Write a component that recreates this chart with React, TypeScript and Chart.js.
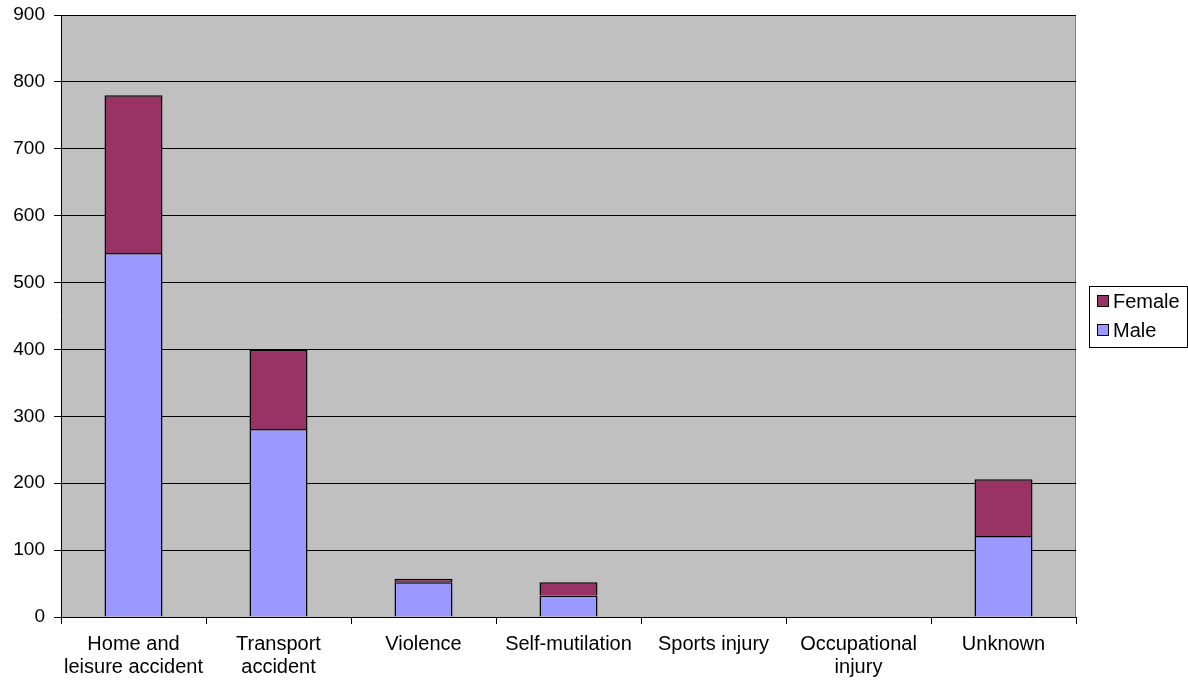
import React, { useEffect, useRef } from "react";
import { Chart, registerables } from "chart.js";

Chart.register(...registerables);

const categories: (string | string[])[] = [
  ["Home and", "leisure accident"],
  ["Transport", "accident"],
  "Violence",
  "Self-mutilation",
  "Sports injury",
  ["Occupational", "injury"],
  "Unknown",
];
const seriesNames = ["Male", "Female"];
const maleValues = [544, 281, 52, 32, 0, 0, 121];
const femaleValues = [236, 118, 5, 20, 0, 0, 85];
const seriesColors = ["#9999FF", "#993366"];
const yTicks = { min: 0, max: 900, step: 100 };

const FONT = "'Liberation Sans', Arial, sans-serif";

const plotBg = {
  id: "plotBg",
  beforeDraw(chart: any) {
    const { ctx, chartArea: a } = chart;
    ctx.save();
    ctx.fillStyle = "#C0C0C0";
    ctx.fillRect(a.left, a.top, a.right - a.left, a.bottom - a.top);
    ctx.strokeStyle = "#808080";
    ctx.lineWidth = 1;
    ctx.strokeRect(a.left + 0.5, a.top + 0.5, a.right - a.left - 1, a.bottom - a.top);
    ctx.restore();
  },
  afterDraw(chart: any) {
    const { ctx, chartArea: a } = chart;
    const x0 = Math.round(a.right + 13);
    const cy = (a.top + a.bottom) / 2;
    const y0 = Math.round(cy - 30);
    const w = 98;
    const h = 61;
    ctx.save();
    ctx.fillStyle = "#fff";
    ctx.fillRect(x0, y0, w, h);
    ctx.strokeStyle = "#000";
    ctx.lineWidth = 1;
    ctx.strokeRect(x0 + 0.5, y0 + 0.5, w, h);
    const ds = chart.data.datasets.slice().reverse();
    ctx.font = `20px ${FONT}`;
    ctx.textBaseline = "middle";
    ctx.textAlign = "left";
    ds.forEach((d: any, i: number) => {
      const rc = y0 + 15 + i * 29;
      ctx.fillStyle = d.backgroundColor;
      ctx.fillRect(x0 + 8, Math.round(rc - 6), 12, 12);
      ctx.strokeStyle = "#000";
      ctx.strokeRect(x0 + 8.5, Math.round(rc - 6) + 0.5, 11, 11);
      ctx.fillStyle = "#000";
      ctx.fillText(d.label, x0 + 24, rc + 1);
    });
    ctx.restore();
  },
};

export default function App() {
  const ref = useRef<HTMLCanvasElement | null>(null);
  useEffect(() => {
    if (!ref.current) return;
    const chart = new Chart(ref.current, {
      type: "bar",
      data: {
        labels: categories,
        datasets: [
          {
            label: seriesNames[0],
            data: maleValues,
            backgroundColor: seriesColors[0],
            borderColor: "#000",
            borderWidth: 1.5,
            barPercentage: 0.4,
            categoryPercentage: 1,
          },
          {
            label: seriesNames[1],
            data: femaleValues,
            backgroundColor: seriesColors[1],
            borderColor: "#000",
            borderWidth: 1.5,
            barPercentage: 0.4,
            categoryPercentage: 1,
          },
        ],
      },
      options: {
        animation: false,
        responsive: true,
        maintainAspectRatio: false,
        layout: { padding: { top: 15, left: 0, bottom: 0, right: 112 } },
        plugins: {
          tooltip: { enabled: false },
          legend: { display: false },
        },
        scales: {
          x: {
            stacked: true,
            grid: {
              offset: true,
              drawOnChartArea: false,
              color: "#000",
              tickLength: 7,
            },
            border: { color: "#000" },
            ticks: {
              color: "#000",
              font: { family: FONT, size: 20, lineHeight: 1.15 },
              maxRotation: 0,
              autoSkip: false,
              padding: 9,
            },
            afterFit(s: any) {
              s.height = 67;
              s.paddingLeft = 0;
              s.paddingRight = 0;
            },
          },
          y: {
            stacked: true,
            min: yTicks.min,
            max: yTicks.max,
            ticks: {
              stepSize: yTicks.step,
              color: "#000",
              font: { family: FONT, size: 19 },
              padding: 9,
            },
            grid: { color: "#000", tickLength: 7 },
            border: { color: "#000" },
            afterFit(s: any) {
              s.width = 61;
              s.paddingTop = 0;
              s.paddingBottom = 0;
            },
          },
        },
      },
      plugins: [plotBg],
    });
    return () => chart.destroy();
  }, []);
  return (
    <div style={{ position: "fixed", left: 0, top: 0, width: 1188, height: 684, background: "#fff" }}>
      <canvas ref={ref} />
    </div>
  );
}
